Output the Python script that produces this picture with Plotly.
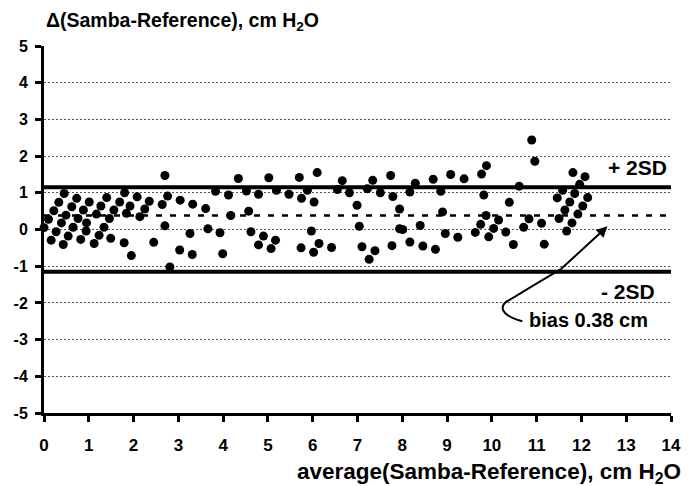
import plotly.graph_objects as go

# average (x) and difference (y) values
avg_vals = [
    0.45, 0.73, 0.33, 1.01, 1.40, 1.80, 2.08, 2.35, 1.69, 0.62, 1.27, 0.22, 0.88, 1.92, 0.49, 1.17, 1.56, 2.25,
    0.10, 0.76, 1.46, 1.84, 2.14, 0.00, 0.39, 0.65, 0.95, 1.34, 0.27, 0.94, 0.54, 1.23, 0.16, 0.82, 1.12, 1.49,
    0.43, 1.79, 2.45, 1.95,
    2.70, 2.64, 2.76, 3.04, 3.32, 3.61, 3.83, 4.12, 4.34, 4.52, 4.79, 5.02, 5.19, 4.57, 4.17, 2.70, 3.26, 3.66,
    3.93, 4.62, 4.90, 5.17, 4.79, 5.07, 3.03, 3.31, 3.99, 2.81,
    5.47, 5.70, 5.88, 6.10, 5.75, 6.03, 6.55, 6.66, 6.82, 6.99, 7.22, 7.34, 7.51, 7.74, 7.79, 7.94, 5.97, 5.74,
    6.14, 6.02, 6.42, 7.04, 7.10, 7.39, 7.26, 7.77, 7.94,
    8.29, 8.17, 8.69, 8.86, 9.08, 9.38, 9.77, 9.88, 9.82, 10.39, 10.61, 8.90, 9.87, 10.15, 9.75, 10.04, 8.01,
    8.40, 8.96, 9.63, 9.93, 10.31, 9.24, 8.17, 8.46, 8.74, 10.48,
    10.89, 10.96, 11.81, 12.08, 11.96, 11.58, 11.85, 11.46, 12.14, 11.74, 12.03, 11.63, 11.92, 11.50, 11.79,
    10.83, 10.71, 11.11, 11.67, 11.17,
]
diff_vals = [
    0.98, 0.85, 0.74, 0.75, 0.87, 1.00, 0.89, 0.77, 0.75, 0.62, 0.64, 0.51, 0.53, 0.64, 0.39, 0.42, 0.53, 0.56,
    0.28, 0.30, 0.30, 0.44, 0.35, 0.05, 0.18, 0.06, 0.18, 0.06, -0.06, -0.04, -0.18, -0.16, -0.29, -0.27, -0.38, -0.24,
    -0.41, -0.36, -0.35, -0.71,
    1.47, 0.68, 0.91, 0.80, 0.69, 0.57, 1.04, 0.94, 1.39, 1.05, 0.96, 1.41, 1.07, 0.50, 0.38, 0.10, -0.11, 0.02,
    -0.09, -0.06, -0.18, -0.29, -0.42, -0.52, -0.56, -0.68, -0.66, -1.02,
    0.96, 1.42, 1.07, 1.55, 0.85, 0.75, 1.09, 1.33, 1.00, 0.66, 1.11, 1.34, 1.00, 1.47, 0.90, 0.56, -0.04, -0.50,
    -0.38, -0.62, -0.49, 0.09, -0.47, -0.58, -0.81, -0.44, 0.02,
    1.26, 1.02, 1.37, 1.04, 1.50, 1.38, 1.51, 1.74, 0.94, 0.74, 1.18, 0.48, 0.38, 0.26, 0.14, 0.03, 0.00,
    0.11, -0.11, -0.08, -0.20, -0.07, -0.21, -0.34, -0.45, -0.54, -0.41,
    2.44, 1.86, 1.55, 1.44, 1.23, 1.07, 0.98, 0.86, 0.87, 0.75, 0.64, 0.53, 0.42, 0.30, 0.18,
    0.29, 0.06, 0.17, -0.04, -0.40,
]

bias = 0.38
upper_2sd = 1.15
lower_2sd = -1.15

x_ticks = list(range(0, 15))
y_ticks = list(range(-5, 6))

FONT = "Liberation Sans, Arial, sans-serif"
NARROW = "Liberation Sans Narrow, Arial Narrow, Liberation Sans, Arial, sans-serif"

fig = go.Figure()
fig.add_trace(go.Scatter(
    x=avg_vals, y=diff_vals, mode="markers",
    marker=dict(color="black", size=9, line=dict(width=0)),
    cliponaxis=False, showlegend=False, hoverinfo="skip",
))

shapes = [
    dict(type="line", xref="x", yref="y", x0=0, x1=14, y0=upper_2sd, y1=upper_2sd,
         line=dict(color="black", width=4), layer="below"),
    dict(type="line", xref="x", yref="y", x0=0, x1=14, y0=lower_2sd, y1=lower_2sd,
         line=dict(color="black", width=4), layer="below"),
    dict(type="line", xref="x", yref="y", x0=0, x1=14, y0=bias, y1=bias,
         line=dict(color="black", width=2.5, dash="6px,8px"), layer="below"),
    dict(type="path", xref="x", yref="y",
         path="M 10.68,-2.50 C 10.15,-2.32 10.15,-2.05 10.42,-1.90 C 10.75,-1.65 11.3,-1.25 11.55,-1.07 L 12.48,-0.03",
         line=dict(color="black", width=2)),
]

annotations = [
    dict(x=12.58, y=0.09, ax=12.40, ay=-0.13, xref="x", yref="y", axref="x", ayref="y",
         text="", showarrow=True, arrowhead=2, arrowsize=1.1, arrowwidth=2, arrowcolor="black"),
    dict(x=13.26, y=1.70, xref="x", yref="y", text="<b>+ 2SD</b>", showarrow=False,
         font=dict(family=FONT, size=21, color="black"), xanchor="center", yanchor="middle"),
    dict(x=13.04, y=-1.68, xref="x", yref="y", text="<b>- 2SD</b>", showarrow=False,
         font=dict(family=FONT, size=21, color="black"), xanchor="center", yanchor="middle"),
    dict(x=12.15, y=-2.47, xref="x", yref="y", text="<b>bias 0.38 cm</b>", showarrow=False,
         font=dict(family=FONT, size=20, color="black"), xanchor="center", yanchor="middle"),
    dict(x=0.0, y=1.068, xref="paper", yref="paper", text="<b>Δ(Samba-Reference), cm H<sub>2</sub>O</b>",
         showarrow=False, font=dict(family=FONT, size=19.5, color="black"), xanchor="left", yanchor="middle"),
    dict(x=1.019, y=-0.163, xref="paper", yref="paper",
         text="<b>average(Samba-Reference), cm H<sub>2</sub>O</b>",
         showarrow=False, font=dict(family=FONT, size=22.5, color="black"), xanchor="right", yanchor="middle"),
]

# the page body adds an 8px margin, so the figure is sized to fill the window from (8, 8)
fig.update_layout(
    width=689, height=478,
    margin=dict(l=36, r=26, t=38, b=73, autoexpand=False),
    paper_bgcolor="white", plot_bgcolor="white",
    shapes=shapes, annotations=annotations,
    xaxis=dict(range=[0, 14], tickvals=x_ticks, ticktext=[f"<b>{v}</b>" for v in x_ticks],
               showgrid=False, zeroline=False, showline=True, linecolor="black", linewidth=3,
               ticks="outside", ticklen=6, tickwidth=3, tickcolor="black", automargin=False,
               ticklabelstandoff=9,
               tickfont=dict(family=NARROW, size=17, color="black")),
    yaxis=dict(range=[-5, 5], tickvals=y_ticks, ticktext=[f"<b>{v}</b>" for v in y_ticks],
               showgrid=True, gridcolor="#555555", gridwidth=1, griddash="2px,2px",
               zeroline=False, showline=True, linecolor="black", linewidth=3, automargin=False,
               ticks="outside", ticklen=6, tickwidth=3, tickcolor="black", ticklabelstandoff=4,
               tickfont=dict(family=FONT, size=16, color="black")),
)

fig.write_html("out.html")
